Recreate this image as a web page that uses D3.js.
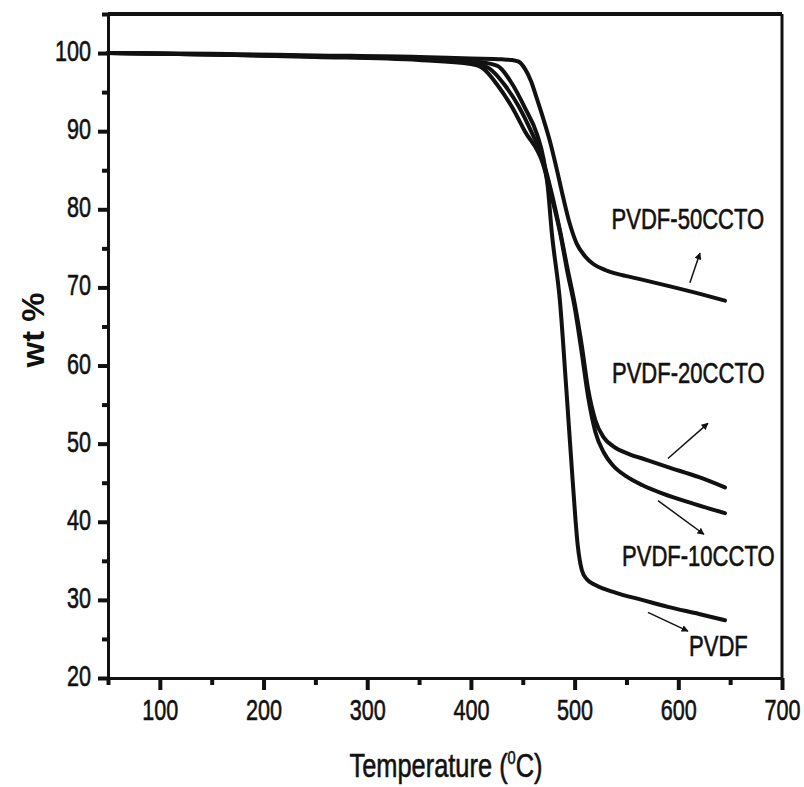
<!DOCTYPE html>
<html>
<head>
<meta charset="utf-8">
<script src="https://cdn.jsdelivr.net/npm/d3@7"></script>
<style>
  body { margin: 0; background: #fff; }
  svg { display: block; }
</style>
</head>
<body>
<div id="chart"></div>
<script>
// TGA curves (temperature in degC, weight in %)
let pvdfT = [50, 150, 250, 350, 400, 425, 440, 452, 464, 470, 474, 478, 486, 492, 498, 503, 507, 512, 520, 540, 565, 590, 620, 645];
let pvdfW = [100, 99.8, 99.6, 99.3, 99.0, 98.4, 96.0, 93.0, 89.5, 86.5, 83.0, 77.0, 68.0, 57.0, 45.5, 37.0, 33.8, 32.6, 31.9, 30.9, 30.0, 29.1, 28.2, 27.4];

let p10T = [50, 150, 250, 350, 400, 412, 425, 440, 452, 469, 478, 486, 493, 500, 507, 513, 520, 528, 537, 550, 565, 585, 615, 645];
let p10W = [100, 99.8, 99.5, 99.1, 98.6, 98.0, 96.0, 93.0, 90.0, 86.0, 81.5, 77.0, 72.0, 67.5, 61.5, 56.0, 51.5, 48.9, 47.2, 45.8, 44.7, 43.6, 42.3, 41.1];

let p20T = [50, 150, 250, 350, 400, 418, 432, 446, 458, 469, 478, 486, 493, 500, 507, 513, 520, 528, 538, 552, 570, 590, 620, 645];
let p20W = [100, 99.8, 99.6, 99.2, 98.8, 98.0, 96.0, 93.2, 90.0, 86.5, 82.0, 77.2, 72.5, 68.0, 62.5, 57.0, 53.0, 50.8, 49.6, 48.7, 47.9, 47.0, 45.7, 44.4];

let p50T = [50, 150, 250, 350, 400, 430, 440, 446, 452, 458, 464, 470, 476, 483, 489, 495, 502, 510, 518, 530, 545, 565, 590, 620, 645];
let p50W = [100, 99.9, 99.7, 99.5, 99.3, 99.2, 99.1, 98.9, 98.0, 96.4, 94.0, 91.5, 88.8, 85.0, 81.5, 78.3, 75.6, 74.0, 73.0, 72.2, 71.6, 71.0, 70.2, 69.2, 68.3];

let xMajor = [100, 200, 300, 400, 500, 600, 700];
let xMinor = [50, 150, 250, 350, 450, 550, 650];
let yMajor = [20, 30, 40, 50, 60, 70, 80, 90, 100];
let yMinor = [25, 35, 45, 55, 65, 75, 85, 95, 105];

// annotation labels: text, anchor [T, wt], arrow from [T, wt] to [T, wt]
let labelNames = ["PVDF-50CCTO", "PVDF-20CCTO", "PVDF-10CCTO", "PVDF"];
let labelAt = [[535.6, 77.5], [536, 57.7], [545.7, 34.4], [610.3, 22.8]];
let arrowFrom = [[611.2, 70.6], [590, 48.1], [580.4, 42.7], [570.7, 28.4]];
let arrowTo = [[620.9, 74.4], [628.6, 52.6], [624.7, 38.4], [609.3, 26.0]];

let width = 804,
    height = 787;
let ink = "#111";
let font = "'Liberation Sans', Arial, sans-serif";
let squeeze = 0.76;   // the original lettering is condensed

let x = d3.scaleLinear().domain([50, 700]).range([108, 782]);
let y = d3.scaleLinear().domain([20, 105]).range([678, 14]);

let svg = d3.select("#chart").append("svg")
    .attr("width", width)
    .attr("height", height)
    .style("background", "#fff");

let defs = svg.append("defs");
defs.append("marker")
    .attr("id", "arrow")
    .attr("viewBox", "0 0 10 10")
    .attr("refX", 9)
    .attr("refY", 5)
    .attr("markerWidth", 7)
    .attr("markerHeight", 7)
    .attr("markerUnits", "userSpaceOnUse")
    .attr("orient", "auto")
    .append("path")
    .attr("d", "M0,0 L10,5 L0,10 Z")
    .attr("fill", ink);

// frame: top and right lines
svg.append("line")
    .attr("x1", x(50)).attr("x2", x(700))
    .attr("y1", y(105)).attr("y2", y(105))
    .attr("stroke", ink).attr("stroke-width", 4);
svg.append("line")
    .attr("x1", x(700)).attr("x2", x(700))
    .attr("y1", y(105)).attr("y2", y(20))
    .attr("stroke", ink).attr("stroke-width", 3);

// axes
function styleAxis(g, w) {
    g.select(".domain").attr("stroke", ink).attr("stroke-width", 3);
    g.selectAll(".tick line").attr("stroke", ink).attr("stroke-width", w);
}
function styleText(sel, size) {
    sel.attr("fill", ink)
        .attr("stroke", ink)
        .attr("stroke-width", 0.6)
        .style("font-family", font)
        .style("font-size", size);
}

let xAxisMinor = svg.append("g")
    .attr("transform", `translate(0,${y(20)})`)
    .call(d3.axisBottom(x).tickValues(xMinor).tickSize(7).tickSizeOuter(0).tickFormat(""));
styleAxis(xAxisMinor, 4);

let xAxis = svg.append("g")
    .attr("transform", `translate(0,${y(20)})`)
    .call(d3.axisBottom(x).tickValues(xMajor).tickSize(12).tickSizeOuter(0));
styleAxis(xAxis, 4);
xAxis.selectAll(".tick text")
    .attr("y", 42)
    .attr("dy", 0)
    .attr("transform", "scale(0.72,1)")
    .call(styleText, "30px");

let yAxisMinor = svg.append("g")
    .attr("transform", `translate(${x(50)},0)`)
    .call(d3.axisLeft(y).tickValues(yMinor).tickSize(6).tickSizeOuter(0).tickFormat(""));
styleAxis(yAxisMinor, 4);

let yAxis = svg.append("g")
    .attr("transform", `translate(${x(50)},0)`)
    .call(d3.axisLeft(y).tickValues(yMajor).tickSize(10).tickSizeOuter(0));
styleAxis(yAxis, 4);
yAxis.selectAll(".tick text")
    .attr("x", -17 / 0.72)
    .attr("dy", "0.25em")
    .attr("transform", "scale(0.72,1)")
    .call(styleText, "30px");

// curves
let line = d3.line()
    .x(d => x(d[0]))
    .y(d => y(d[1]))
    .curve(d3.curveMonotoneX);

let series = [
    d3.zip(p50T, p50W),
    d3.zip(p20T, p20W),
    d3.zip(p10T, p10W),
    d3.zip(pvdfT, pvdfW)
];
svg.append("g").selectAll("path")
    .data(series)
    .enter()
    .append("path")
    .attr("d", line)
    .attr("fill", "none")
    .attr("stroke", ink)
    .attr("stroke-width", 4)
    .attr("stroke-linecap", "round")
    .attr("stroke-linejoin", "round");

// annotations
labelNames.forEach(function(name, i) {
    svg.append("text")
        .attr("transform", `translate(${x(labelAt[i][0])},${y(labelAt[i][1])}) scale(${squeeze},1)`)
        .call(styleText, "29px")
        .text(name);
    svg.append("line")
        .attr("x1", x(arrowFrom[i][0])).attr("y1", y(arrowFrom[i][1]))
        .attr("x2", x(arrowTo[i][0])).attr("y2", y(arrowTo[i][1]))
        .attr("stroke", ink)
        .attr("stroke-width", 1.5)
        .attr("marker-end", "url(#arrow)");
});

// axis titles
let xTitle = svg.append("text")
    .attr("transform", `translate(${(x(50) + x(700)) / 2 + 1},777) scale(0.77,1)`)
    .attr("text-anchor", "middle")
    .call(styleText, "33px");
xTitle.append("tspan").text("Temperature (");
xTitle.append("tspan").attr("dy", -13).style("font-size", "19px").text("0");
xTitle.append("tspan").attr("dy", 13).text("C)");

svg.append("text")
    .attr("transform", `translate(44,330) rotate(-90) scale(1.06,1)`)
    .attr("text-anchor", "middle")
    .attr("fill", ink)
    .style("font-family", font)
    .style("font-size", "31px")
    .style("font-weight", "bold")
    .text("wt %");
</script>
</body>
</html>
